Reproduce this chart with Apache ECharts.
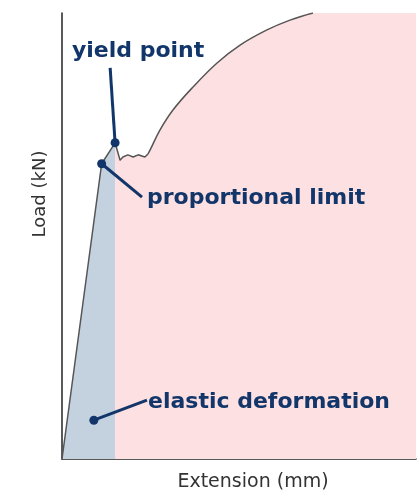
<!DOCTYPE html>
<html>
<head>
<meta charset="utf-8">
<script src="https://cdn.jsdelivr.net/npm/echarts@6/dist/echarts.min.js"></script>
<style>
    html, body { margin: 0; padding: 0; background: #fff; }
    #chart { width: 418px; height: 500px; }
</style>
</head>
<body>
<div id="chart"></div>
<script>
// load-extension curve, axes are 0..100 (no units shown)
var elasticX = [0, 11.2, 15.0];
var elasticY = [0, 66.2, 70.9];

// drop after yield + small wiggles (straight segments)
var yieldX = [15.0, 16.4, 17.2, 18.6, 20.1, 21.5, 23.4, 24.3];
var yieldY = [70.9, 67.0, 67.7, 68.2, 67.7, 68.2, 67.7, 68.4];

// strain hardening arc (drawn smooth)
var hardenX = [24.3, 24.9, 27.7, 31.4, 37.0, 43.8, 50.3, 57.9, 64.4, 70.9];
var hardenY = [68.4, 69.3, 73.8, 78.3, 83.4, 88.8, 92.8, 96.2, 98.4, 100];

// annotations: dot, leader end, label anchor
var noteNames = ['yield point', 'proportional limit', 'elastic deformation'];
var noteDots = [[15.0, 70.9], [11.2, 66.2], [9.0, 8.7]];
var noteEnds = [[13.6, 87.7], [22.6, 58.7], [24.0, 13.2]];
var noteLabels = [[2.8, 91.5], [24.0, 58.5], [24.3, 12.8]];

(function (win) {
    var navy = '#12366a',
        pink = '#fde0e1',
        chart = echarts.init(document.getElementById('chart'));

    function pairs(xs, ys) {
        var out = [];
        for (var i = 0; i < xs.length; i++) {
            out.push([xs[i], ys[i]]);
        }
        return out;
    }

    var elastic = pairs(elasticX, elasticY),
        wiggle = pairs(yieldX, yieldY),
        arc = pairs(hardenX, hardenY),
        straight = elastic.concat(wiggle.slice(1)),
        pinkFlat = wiggle.concat(arc.slice(1)).concat([[100, 100]]),
        pinkArc = arc.concat([[100, 100]]);

    var leaders = [], labels = [];
    for (var i = 0; i < noteNames.length; i++) {
        leaders.push({ coords: [noteDots[i], noteEnds[i]] });
        labels.push({ name: noteNames[i], value: noteLabels[i] });
    }

    chart.setOption({
        animation: false,
        grid: { left: 62, right: 2, top: 13, bottom: 41 },
        xAxis: {
            type: 'value', min: 0, max: 100,
            axisLine: { lineStyle: { color: '#222', width: 1.5 } },
            axisTick: { show: false }, axisLabel: { show: false }, splitLine: { show: false }
        },
        yAxis: {
            type: 'value', min: 0, max: 100,
            axisLine: { show: true, lineStyle: { color: '#222', width: 1.5 } },
            axisTick: { show: false }, axisLabel: { show: false }, splitLine: { show: false }
        },
        graphic: [
            {
                type: 'text', x: 40, y: 194, rotation: Math.PI / 2,
                style: { text: 'Load (kN)', fill: '#333', font: '18px "DejaVu Sans"', align: 'center', verticalAlign: 'middle' }
            },
            {
                type: 'text', x: 253, y: 482,
                style: { text: 'Extension (mm)', fill: '#333', font: '19px "DejaVu Sans"', align: 'center', verticalAlign: 'middle' }
            }
        ],
        series: [
            {
                type: 'line', data: elastic, symbol: 'none', z: 1,
                lineStyle: { width: 0 }, areaStyle: { color: '#c4d2e0', opacity: 1 }
            },
            {
                type: 'line', data: pinkFlat, symbol: 'none', z: 1,
                lineStyle: { width: 0 }, areaStyle: { color: pink, opacity: 1 }
            },
            {
                type: 'line', data: pinkArc, symbol: 'none', z: 1, smooth: 0.4,
                lineStyle: { width: 0 }, areaStyle: { color: pink, opacity: 1 }
            },
            {
                type: 'line', data: straight, symbol: 'none', z: 2,
                lineStyle: { color: '#555', width: 1.5 }
            },
            {
                type: 'line', data: arc, symbol: 'none', z: 2, smooth: 0.4,
                lineStyle: { color: '#555', width: 1.5 }
            },
            {
                type: 'lines', coordinateSystem: 'cartesian2d', z: 3,
                data: leaders,
                lineStyle: { color: navy, width: 3, opacity: 1 }
            },
            {
                type: 'scatter', data: noteDots, symbolSize: 9, z: 4,
                itemStyle: { color: navy, opacity: 1 }
            },
            {
                type: 'scatter', data: labels, symbolSize: 0, z: 4,
                itemStyle: { opacity: 1 },
                label: {
                    show: true, position: 'right', distance: 0,
                    formatter: '{b}', color: navy,
                    fontFamily: 'DejaVu Sans', fontWeight: 'bold', fontSize: 22
                }
            }
        ]
    });
})(this);
</script>
</body>
</html>
